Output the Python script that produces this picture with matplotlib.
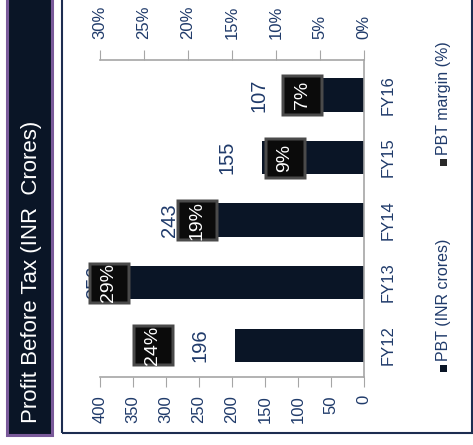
import matplotlib.pyplot as plt
import matplotlib.ticker as ticker
from matplotlib.patches import Rectangle

plt.rcParams['font.family'] = ['Liberation Sans Narrow', 'DejaVu Sans Condensed', 'Liberation Sans']

years = ['FY12', 'FY13', 'FY14', 'FY15', 'FY16']
pbt = [196, 356, 243, 155, 107]          # INR crores
margin = [24, 29, 19, 9, 7]              # %
pbt_ticks = [0, 50, 100, 150, 200, 250, 300, 350, 400]
margin_ticks = [0, 5, 10, 15, 20, 25, 30]

W, H = 473, 445
NAVY = '#0a1526'
TXT = '#1f3a6a'
GRID = '#a6a6a6'


def fx(px):
    return px / W


def fy(py):
    return 1 - py / H


fig = plt.figure(figsize=(W / 100, H / 100), dpi=100)

# title strip and outer frame
fig.add_artist(Rectangle((fx(7), fy(435)), fx(45), 445 / H, transform=fig.transFigure,
                         fc=NAVY, ec='#7a5a9a', lw=2.2))
fig.text(fx(31), fy(272), 'Profit Before Tax (INR  Crores)', rotation=90, color='white',
         fontsize=16, ha='center', va='center')
fig.add_artist(Rectangle((fx(62), fy(433)), fx(410), 445 / H, transform=fig.transFigure,
                         fill=False, ec='#1d2d50', lw=1.5))

# chart is laid on its side: values run right-to-left, years bottom-to-top
ax = fig.add_axes([fx(100), fy(377), fx(264), 317 / H])
pos = list(range(len(years)))
ax.barh(pos, pbt, height=0.53, color=NAVY, zorder=2)
ax.set_xlim(400, 0)
ax.set_ylim(-0.51, 4.56)
ax.set_xticks(pbt_ticks)
ax.set_yticks(pos)
ax.set_yticklabels(years)
ax.yaxis.tick_right()
ax.tick_params(axis='x', direction='out', length=7, color=GRID, labelcolor=TXT,
               labelsize=12, labelrotation=90, pad=6)
ax.tick_params(axis='y', length=0, labelcolor=TXT, labelsize=12, labelrotation=90, pad=12)
for lbl in ax.get_yticklabels():
    lbl.set_verticalalignment('center')
for s in ['left', 'top']:
    ax.spines[s].set_visible(False)
for s in ['right', 'bottom']:
    ax.spines[s].set_color(GRID)
    ax.spines[s].set_linewidth(1.2)

for i, v in enumerate(pbt):
    ax.text(v + 52, i, str(v), rotation=90, ha='center', va='center', color=TXT,
            fontsize=14.5)

# margin axis on top
ax2 = ax.twiny()
ax2.set_xlim(30, 0)
ax2.set_xticks(margin_ticks)
ax2.xaxis.set_major_formatter(ticker.FuncFormatter(lambda x, p: f'{x:.0f}%'))
ax2.tick_params(axis='x', direction='out', length=7, color=GRID, labelcolor=TXT,
                labelsize=12, labelrotation=90, pad=8)
for s in ['left', 'right', 'bottom']:
    ax2.spines[s].set_visible(False)
ax2.spines['top'].set_color(GRID)
ax2.spines['top'].set_linewidth(1.2)

ax2.plot(margin, pos, 's', ms=30, mfc='#4a4a4a', mec='none', zorder=3, clip_on=False)
ax2.plot(margin, pos, 's', ms=26.5, mfc='#0b0b0b', mec='none', zorder=4, clip_on=False)
for i, m in enumerate(margin):
    ax2.text(m, i, f'{m}%', rotation=90, ha='center', va='center', color='white',
             fontsize=14, zorder=5)

# legend
fig.add_artist(Rectangle((fx(440), fy(372)), fx(7), 7 / H, transform=fig.transFigure,
                         fc=NAVY, ec='none'))
fig.text(fx(443), fy(361), 'PBT (INR crores)', rotation=90, ha='center', va='bottom',
         color=TXT, fontsize=11.5, family='Liberation Sans')
fig.add_artist(Rectangle((fx(440), fy(166)), fx(7), 7 / H, transform=fig.transFigure,
                         fc='#2a2a2a', ec='none'))
fig.text(fx(443), fy(155), 'PBT margin (%)', rotation=90, ha='center', va='bottom',
         color=TXT, fontsize=11.5, family='Liberation Sans')

fig.savefig('out.png', dpi=100)
